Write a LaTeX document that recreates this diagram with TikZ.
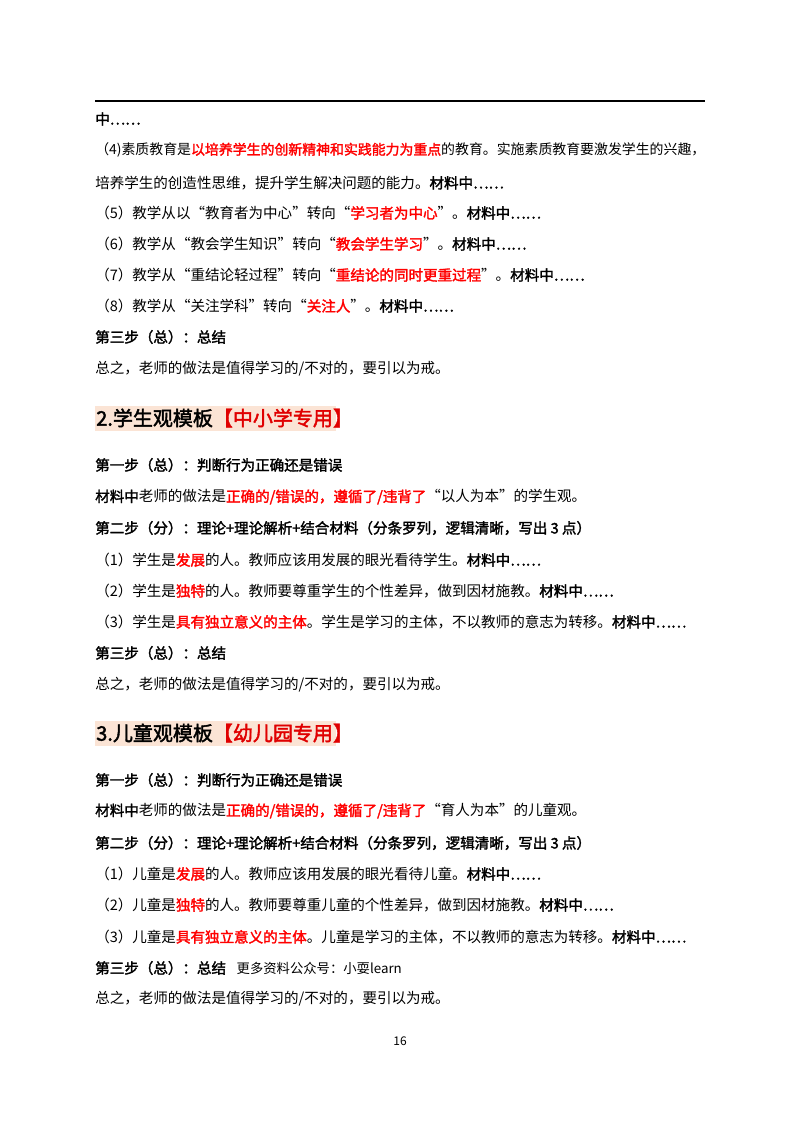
\documentclass[tikz,border=0pt]{standalone}
\usepackage{fontspec}
\setmainfont{Noto Sans CJK SC}[AutoFakeBold=2]
\usepackage{xcolor}
\usepackage{graphicx}
\definecolor{rd}{HTML}{FF0000}
\definecolor{hbg}{HTML}{FBE4D5}
\definecolor{hrd}{HTML}{E00000}
\newcommand{\R}[1]{\textcolor{rd}{\bfseries #1}}
\newcommand{\B}[1]{{\bfseries #1}}
\begin{document}
\begin{tikzpicture}[x=0.75pt,y=-0.75pt,
  ln/.style={anchor=west,inner sep=0pt,font=\fontsize{10.9}{13}\selectfont},
  hd/.style={anchor=west,inner sep=0pt,font=\fontsize{15}{18}\selectfont\bfseries}]
\useasboundingbox[fill=white] (0,0) rectangle (800,1132);
\draw[line width=1pt] (95,101) -- (705,101);
\node[ln] (l1) at (95,119) {\B{中……}};
\node[ln] (l2) at (95,150) {\resizebox{457.5pt}{!}{（4)素质教育是\R{以培养学生的创新精神和实践能力为重点}的教育。实施素质教育要激发学生的兴趣，}};
\node[ln] (l3) at (95,183) {培养学生的创造性思维，提升学生解决问题的能力。\B{材料中……}};
\node[ln] (l4) at (95,213) {（5）教学从以“教育者为中心”转向“\R{学习者为中心}”。\B{材料中……}};
\node[ln] (l5) at (95,244) {（6）教学从“教会学生知识”转向“\R{教会学生学习}”。\B{材料中……}};
\node[ln] (l6) at (95,275) {（7）教学从“重结论轻过程”转向“\R{重结论的同时更重过程}”。\B{材料中……}};
\node[ln] (l7) at (95,306) {（8）教学从“关注学科”转向“\R{关注人}”。\B{材料中……}};
\node[ln] (l8) at (95,337) {\B{第三步（总）：总结}};
\node[ln] (l9) at (95,369) {总之，老师的做法是值得学习的/不对的，要引以为戒。};

\fill[hbg] (95,406) rectangle (336,431);
\node[hd] (h2) at (96,418) {2.学生观模板\textcolor{hrd}{【中小学专用】}};
\node[ln] (a1) at (95,465) {\B{第一步（总）：判断行为正确还是错误}};
\node[ln] (a2) at (95,497) {\B{材料中}老师的做法是\R{正确的/错误的，遵循了/违背了}“以人为本”的学生观。};
\node[ln] (a3) at (95,528) {\B{第二步（分）：理论+理论解析+结合材料（分条罗列，逻辑清晰，写出 3 点）}};
\node[ln] (a4) at (95,560) {（1）学生是\R{发展}的人。教师应该用发展的眼光看待学生。\B{材料中……}};
\node[ln] (a5) at (95,591) {（2）学生是\R{独特}的人。教师要尊重学生的个性差异，做到因材施教。\B{材料中……}};
\node[ln] (a6) at (95,622) {（3）学生是\R{具有独立意义的主体}。学生是学习的主体，不以教师的意志为转移。\B{材料中……}};
\node[ln] (a7) at (95,653) {\B{第三步（总）：总结}};
\node[ln] (a8) at (95,685) {总之，老师的做法是值得学习的/不对的，要引以为戒。};

\fill[hbg] (95,721) rectangle (336,746);
\node[hd] (h3) at (96,733) {3.儿童观模板\textcolor{hrd}{【幼儿园专用】}};
\node[ln] (b1) at (95,780) {\B{第一步（总）：判断行为正确还是错误}};
\node[ln] (b2) at (95,811) {\B{材料中}老师的做法是\R{正确的/错误的，遵循了/违背了}“育人为本”的儿童观。};
\node[ln] (b3) at (95,843) {\B{第二步（分）：理论+理论解析+结合材料（分条罗列，逻辑清晰，写出 3 点）}};
\node[ln] (b4) at (95,874) {（1）儿童是\R{发展}的人。教师应该用发展的眼光看待儿童。\B{材料中……}};
\node[ln] (b5) at (95,905) {（2）儿童是\R{独特}的人。教师要尊重儿童的个性差异，做到因材施教。\B{材料中……}};
\node[ln] (b6) at (95,937) {（3）儿童是\R{具有独立意义的主体}。儿童是学习的主体，不以教师的意志为转移。\B{材料中……}};
\node[ln] (b7) at (95,968) {\B{第三步（总）：总结}\hspace{8pt}{\fontsize{10}{12}\selectfont 更多资料公众号：小耍learn}};
\node[ln] (b8) at (95,999) {总之，老师的做法是值得学习的/不对的，要引以为戒。};
\node[inner sep=0pt,font=\fontsize{9}{11}\selectfont] (pg) at (400,1041) {16};
\end{tikzpicture}
\end{document}
